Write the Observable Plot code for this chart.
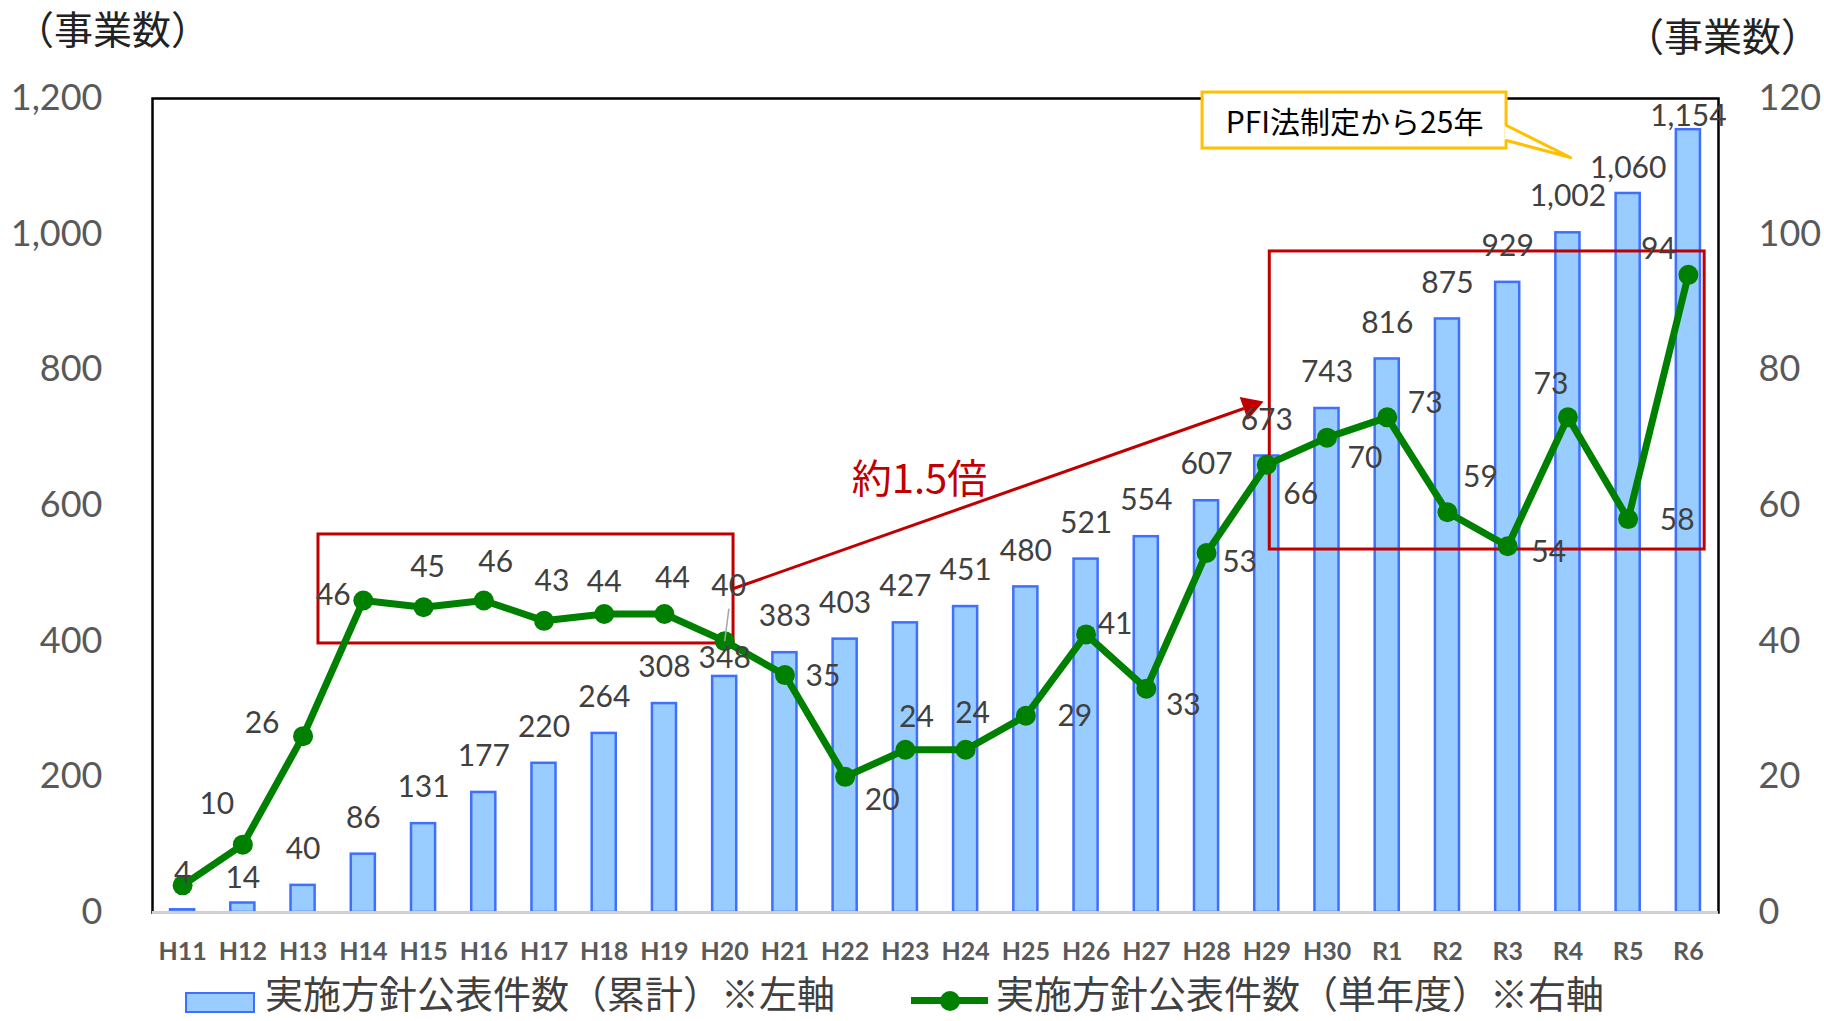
<!DOCTYPE html>
<html>
<head>
<meta charset="utf-8">
<script src="https://cdn.jsdelivr.net/npm/d3@7"></script>
<script src="https://cdn.jsdelivr.net/npm/@observablehq/plot@0.6"></script>
<style>
html, body { margin: 0; padding: 0; background: #fff; }
#wrap { position: relative; width: 1824px; height: 1021px; overflow: hidden; font-family: "Noto Sans CJK JP", sans-serif; }
#chart { position: absolute; left: 0; top: 0; }
.unit { position: absolute; font-size: 39px; line-height: 39px; color: #222; white-space: nowrap; }
.leg { position: absolute; font-size: 38px; line-height: 38px; color: #404040; white-space: nowrap; }
</style>
</head>
<body>
<div id="wrap">
  <div id="chart"></div>
  <div class="unit" style="left:15px; top:8px;">（事業数）</div>
  <div class="unit" style="left:1625px; top:15px;">（事業数）</div>
  <div style="position:absolute; left:185px; top:992px; width:66px; height:17px; background:#99CCFF; border:2.5px solid #3F6FFF;"></div>
  <div class="leg" style="left:265px; top:973px;">実施方針公表件数（累計）※左軸</div>
  <div style="position:absolute; left:911px; top:997px; width:77px; height:7px; background:#008000;"></div>
  <div style="position:absolute; left:940px; top:991px; width:20px; height:20px; border-radius:50%; background:#008000;"></div>
  <div class="leg" style="left:996px; top:973px;">実施方針公表件数（単年度）※右軸</div>
</div>
<script>
// ---- data ----
const categories = ["H11","H12","H13","H14","H15","H16","H17","H18","H19","H20",
  "H21","H22","H23","H24","H25","H26","H27","H28","H29","H30",
  "R1","R2","R3","R4","R5","R6"];
const cumulative = [4,14,40,86,131,177,220,264,308,348,383,403,427,451,480,521,554,607,673,743,816,875,929,1002,1060,1154];
const annual = [4,10,26,46,45,46,43,44,44,40,35,20,24,24,29,41,33,53,66,70,73,59,54,73,58,94];
const leftTicks = [0,200,400,600,800,1000,1200];
const rightMax = 120;
const leftMax = 1200;
const RATIO = leftMax / rightMax;

// ---- label layout (pixel offsets) ----
const lineLabelOffsets = [
  [-1,-12],[-26,-40],[-41,-13],[-30,-5],[4,-40],[12,-38],[8,-39],[0,-32],[8,-36],[4,-55],
  [38,1],[37,24],[11,-32],[7,-36],[49,1],[29,-10],[37,17],[33,9],[34,30],[38,21],
  [38,-14],[33,-35],[41,6],[-17,-33],[49,1],[-30,-25]
];
const barLabelDy = [-36,-25,-36,-36,-36,-36,-36,-36,-36,-18,-36,-36,-36,-36,-36,-36,-36,-36,-36,-36,-36,-36,-36,-36,-25,-13];

// ---- annotations (in data units: x = category index, y = left-axis value) ----
const boxes = [
  {x1: 2.256, x2: 9.147, y1: 396.6, y2: 557.3},
  {x1: 18.05, x2: 25.27, y1: 535.1, y2: 974.5}
];
const arrowLine = [{x1: 9.147, y1: 477.6, x2: 17.62, y2: 743}];
const arrowHead = [{x: 17.727, y: 746.4}];
const leader = [{x1: 9.07, y1: 448, x2: 9.0, y2: 400}];
const ratioNote = [{x: 12.235, y: 636.9, text: "約1.5倍"}];
const callBox = [{x1: 16.934, x2: 21.981, y1: 1126.3, y2: 1208.8}];
const callWedge = [{x: 21.981, y: 1160.2}, {x: 23.044, y: 1113.0}, {x: 21.981, y: 1138.1}];
const callText = [{x: 19.458, y: 1163, text: "PFI法制定から25年"}];

const data = categories.map((c, i) => ({i, c, cum: cumulative[i], yr: annual[i]}));

const numFont = "Lato, 'Noto Sans CJK JP', sans-serif";
const cjkFont = "'Noto Sans CJK JP', sans-serif";

const lineLabelMarks = data.filter(d => d.i > 0).map(d => Plot.text([d], {
  x: "i", y: v => v.yr * RATIO, text: v => String(v.yr),
  dx: lineLabelOffsets[d.i][0], dy: lineLabelOffsets[d.i][1],
  fontSize: 30, fill: "#404040", fontFamily: numFont
}));
const barLabelMarks = data.map(d => Plot.text([d], {
  x: "i", y: "cum", text: v => d3.format(",")(v.cum),
  dy: barLabelDy[d.i], fontSize: 30, fill: "#404040", fontFamily: numFont
}));

const chart = Plot.plot({
  width: 1824,
  height: 975,
  marginTop: 98,
  marginBottom: 63,
  marginLeft: 152,
  marginRight: 106,
  x: {type: "linear", domain: [-0.5, categories.length - 0.5]},
  y: {domain: [0, leftMax]},
  style: {fontFamily: numFont, background: "white", overflow: "visible"},
  marks: [
    Plot.rect(data, {x1: d => d.i - 0.2, x2: d => d.i + 0.2, y1: () => 0, y2: "cum",
      fill: "#99CCFF", stroke: "#3F6FFF", strokeWidth: 2.5}),
    Plot.frame({stroke: "black", strokeWidth: 2.5}),
    Plot.ruleY([0], {stroke: "#D0D0D0", strokeWidth: 3}),
    Plot.axisY({anchor: "left", ticks: leftTicks, tickSize: 0, tickPadding: 50,
      tickFormat: d3.format(","), fontSize: 36, fill: "#595959", label: null}),
    Plot.axisY({anchor: "right", ticks: leftTicks, tickSize: 0, tickPadding: 40,
      tickFormat: d => String(d / RATIO), fontSize: 36, fill: "#595959", label: null}),
    Plot.axisX({ticks: data.map(d => d.i), tickFormat: i => categories[i], tickSize: 0, tickPadding: 30,
      fontSize: 25, fontWeight: "bold", fill: "#595959", label: null}),
    Plot.rect(boxes, {x1: "x1", x2: "x2", y1: "y1", y2: "y2", fill: "none", stroke: "#C00000", strokeWidth: 3}),
    Plot.link(arrowLine, {x1: "x1", y1: "y1", x2: "x2", y2: "y2", stroke: "#C00000", strokeWidth: 3}),
    Plot.dot(arrowHead, {x: "x", y: "y", symbol: "triangle", r: 9, rotate: 70.5, fill: "#C00000", stroke: "none"}),
    Plot.line(data, {x: "i", y: d => d.yr * RATIO, stroke: "#008000", strokeWidth: 7}),
    Plot.dot(data, {x: "i", y: d => d.yr * RATIO, r: 10, fill: "#008000", stroke: "none"}),
    Plot.link(leader, {x1: "x1", y1: "y1", x2: "x2", y2: "y2", stroke: "#A6A6A6", strokeWidth: 1.5}),
    ...barLabelMarks,
    ...lineLabelMarks,
    Plot.text(ratioNote, {x: "x", y: "y", text: "text", fontSize: 40, fill: "#C00000", fontFamily: cjkFont}),
    Plot.rect(callBox, {x1: "x1", x2: "x2", y1: "y1", y2: "y2", fill: "white", stroke: "#FFC000", strokeWidth: 3}),
    Plot.ruleX([callWedge[0].x], {y1: callWedge[2].y, y2: callWedge[0].y, stroke: "white", strokeWidth: 4}),
    Plot.line(callWedge, {x: "x", y: "y", stroke: "#FFC000", fill: "white", strokeWidth: 3, curve: "linear"}),
    Plot.text(callText, {x: "x", y: "y", text: "text", fontSize: 30, fill: "#000", fontFamily: cjkFont})
  ]
});
document.getElementById("chart").appendChild(chart);
</script>
</body>
</html>
